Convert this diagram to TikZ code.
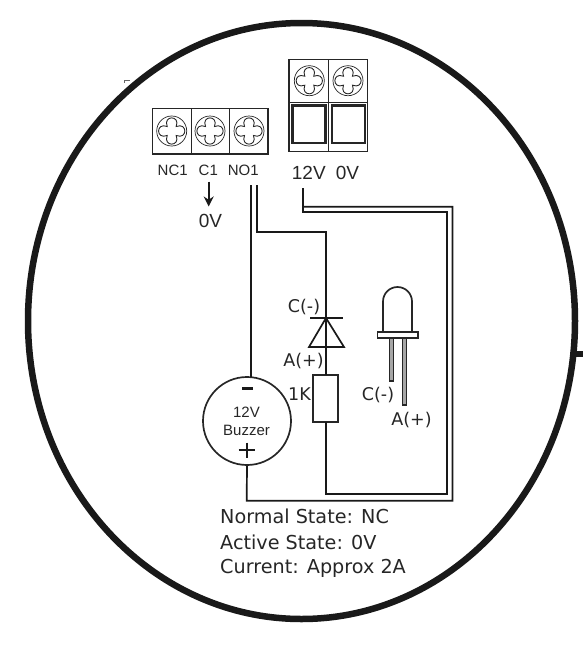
\documentclass[tikz,border=0pt]{standalone}
\usepackage{fontspec}
\setmainfont{DejaVu Sans}
\setsansfont{Liberation Sans}
\usetikzlibrary{calc,arrows.meta}
\tikzset{
  wire/.style={black!90, line width=1.7pt},
  outline/.style={black!85, line width=1.1pt},
  rim/.style={black!90, line width=6.5pt},
  lbl/.style={font=\fontsize{17.5}{20}\selectfont, inner sep=0pt, text=black!85},
  notelbl/.style={font=\fontsize{19.2}{22}\selectfont, inner sep=0pt, text=black!85, anchor=west},
  termlbl/.style={font=\sffamily\fontsize{15}{17}\selectfont, inner sep=0pt, text=black!85},
  powerlbl/.style={font=\sffamily\fontsize{19}{22}\selectfont, inner sep=0pt, text=black!85},
  buzzlbl/.style={font=\sffamily\fontsize{15}{18}\selectfont, inner sep=0pt, align=center, text=black!85},
}
% one screw head: ring plus four-lobed slot
\newcommand{\screwhead}[2]{
  \draw[outline, line width=0.7pt] (#1,#2) circle (15);
  \draw[outline, line width=0.9pt] (#1-4.5,#2-4.5) .. controls (#1-9,#2-16) and (#1+9,#2-16) .. (#1+4.5,#2-4.5)
    .. controls (#1+16,#2-9) and (#1+16,#2+9) .. (#1+4.5,#2+4.5)
    .. controls (#1+9,#2+16) and (#1-9,#2+16) .. (#1-4.5,#2+4.5)
    .. controls (#1-16,#2+9) and (#1-16,#2-9) .. (#1-4.5,#2-4.5) -- cycle;
}
\begin{document}
\begin{tikzpicture}[x=1pt, y=-1pt]
  \useasboundingbox (0,0) rectangle (583,662);
  % outer rim
  \draw[rim] (301.5,321) ellipse (273.5 and 298);
  \draw[rim] (575,354) -- (583,354);
  \draw[black!60, line width=0.5pt] (124,83) -- (124,80.5) -- (130,80.5);
  % relay terminals
  \draw[outline] (152.5,108.5) rectangle (268,154);
  \draw[outline] (191.3,108.5) -- (191.3,154);
  \draw[outline] (229.3,108.5) -- (229.3,154);
  \screwhead{171.7}{131}
  \screwhead{210}{131}
  \screwhead{249}{131}
  \node[termlbl] (nc) at (172.7,170) {NC1};
  \node[termlbl] (c) at (208.3,170) {C1};
  \node[termlbl] (no) at (243.3,170) {NO1};
  \node[powerlbl] (zero) at (210.4,221) {0V};
  \coordinate (arrowtop) at (208.7,181.7);
  \coordinate (arrowend) at (208.7,206.5);
  \draw[wire, -{Stealth[length=10pt,width=10pt]}] (arrowtop) -- (arrowend);
  % power terminals
  \draw[outline] (289,59.3) rectangle (367.7,151.7);
  \draw[outline, line width=1.6pt] (328.3,59.3) -- (328.3,151.7);
  \draw[outline, line width=1.6pt] (289,102.3) -- (367.7,102.3);
  \draw[outline, line width=2.2pt] (292.5,105.5) rectangle (325.5,143);
  \draw[outline, line width=2.2pt] (332,105.5) rectangle (365,143);
  \screwhead{309.3}{80.7}
  \screwhead{348}{80.7}
  \node[powerlbl] (vtw) at (308.8,173) {12V};
  \node[powerlbl] (vz) at (347.5,173) {0V};
  % parts
  \node[draw, circle, outline, line width=1.7pt, minimum size=88pt, inner sep=0pt] (buzzer) at (247,421) {};
  \node[buzzlbl] (buzzname) at (246.5,421) {12V\\Buzzer};
  \node[draw, outline, line width=1.7pt, minimum width=25.6pt, minimum height=46.4pt, inner sep=0pt] (res) at (325.5,398.5) {};
  \coordinate (dtop) at (326,318);
  \coordinate (dl) at (309,347);
  \coordinate (dr) at (344,347);
  \draw[wire, line join=miter] (dtop) -- (dl) -- (dr) -- cycle;
  \draw[wire] (310,318) -- (343,318);
  \node[lbl] (cminus) at (304,307) {C(-)};
  \node[lbl] (aplus) at (303.5,361) {A(+)};
  \node[lbl] (onek) at (299.5,394) {1K};
  \draw[wire, line width=3pt] (242,388.7) -- (253,388.7);
  \draw[wire, line width=2.4pt] (238.7,450) -- (255,450);
  \draw[wire, line width=2.4pt] (246.7,442.5) -- (246.7,458);
  % wires
  \coordinate (nowa) at (250.7,185);
  \coordinate (nowb) at (256.7,185);
  \coordinate (pwa) at (303,188);
  \draw[wire] (nowa) -- (250.7,377);
  \draw[wire] (nowb) -- (256.7,232.3) -- (326,232.3) -- (326,375.3);
  \draw[wire] (326,421.7) -- (326,494) -- (447.3,494) -- (447.3,212) -- (303,212) -- (pwa);
  \draw[wire] (303,206.7) -- (452.5,206.7) -- (452.5,500.7) -- (246.7,500.7) -- (buzzer.south);
  % led
  \draw[outline, line width=1.7pt] (383,332) -- (383,301.5) arc (180:360:14.5) -- (412,332);
  \draw[outline, line width=1.7pt, fill=white] (377.5,332) rectangle (418,338);
  \draw[outline, line width=1.7pt, fill=black!35] (389.5,338) rectangle (393.5,381);
  \draw[outline, line width=1.7pt, fill=black!35] (402.5,338) rectangle (406.5,405);
  \node[lbl] (ledc) at (378,395) {C(-)};
  \node[lbl] (leda) at (411.5,420) {A(+)};
  % notes
  \node[notelbl] (n1) at (220,516.5) {Normal State: NC};
  \node[notelbl] (n2) at (220,542) {Active State: 0V};
  \node[notelbl] (n3) at (220,568) {Current: Approx 2A};
\end{tikzpicture}
\end{document}
